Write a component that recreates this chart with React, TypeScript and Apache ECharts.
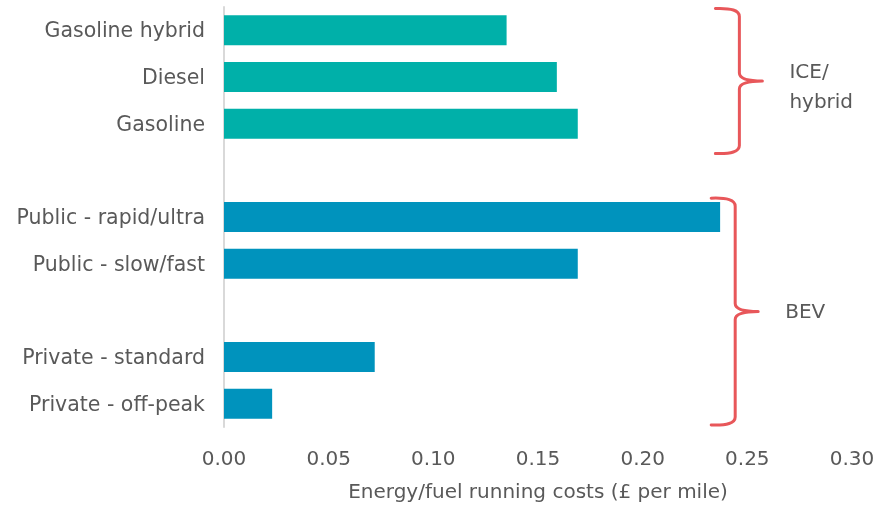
import React, { useEffect, useRef } from "react";
import * as echarts from "echarts";

const categories = [
  "Gasoline hybrid",
  "Diesel",
  "Gasoline",
  "",
  "Public - rapid/ultra",
  "Public - slow/fast",
  "",
  "Private - standard",
  "Private - off-peak",
];
const iceValues = [0.135, 0.159, 0.169, null, null, null, null, null, null];
const bevValues = [null, null, null, null, 0.237, 0.169, null, 0.072, 0.023];
const xTicks = { min: 0, max: 0.3, interval: 0.05 };
const axisTitle = "Energy/fuel running costs (£ per mile)";
const braceGroups = [
  { label: "ICE/\nhybrid", from: 0, to: 2 },
  { label: "BEV", from: 4, to: 8 },
];

const FONT = "DejaVu Sans";
const TEXT = "#595959";
const TEAL = "#00B0A9";
const BLUE = "#0093BD";
const RED = "#E8575A";

export default function App() {
  const ref = useRef<HTMLDivElement>(null);
  useEffect(() => {
    if (!ref.current) return;
    const chart = echarts.init(ref.current, null, { renderer: "svg" });
    const option: any = {
      animation: false,
      grid: {
        left: 224,
        right: 22,
        top: 7,
        bottom: 79,
        containLabel: false,
        outerBoundsMode: "none",
      },
      xAxis: {
        type: "value",
        min: xTicks.min,
        max: xTicks.max,
        interval: xTicks.interval,
        axisLine: { show: false },
        axisTick: { show: false },
        splitLine: { show: false },
        axisLabel: {
          formatter: (v: number) => v.toFixed(2),
          color: TEXT,
          fontFamily: FONT,
          fontSize: 20,
          margin: 21,
        },
        name: axisTitle,
        nameLocation: "middle",
        nameGap: 54,
        nameTextStyle: { color: TEXT, fontFamily: FONT, fontSize: 20 },
      },
      yAxis: {
        type: "category",
        inverse: true,
        data: categories,
        axisLine: { show: true, lineStyle: { color: "#D9D9D9", width: 2 } },
        axisTick: { show: false },
        axisLabel: { color: TEXT, fontFamily: FONT, fontSize: 20.5, margin: 19 },
      },
      series: [
        {
          type: "bar",
          stack: "all",
          data: iceValues,
          barWidth: 30,
          itemStyle: { color: TEAL },
        },
        {
          type: "bar",
          stack: "all",
          data: bevValues,
          barWidth: 30,
          itemStyle: { color: BLUE },
        },
      ],
    };
    chart.setOption(option);

    const yPix = (i: number) => chart.convertToPixel({ yAxisIndex: 0 }, i) as number;
    const xPix = (v: number) => chart.convertToPixel({ xAxisIndex: 0 }, v) as number;
    const band = yPix(1) - yPix(0);
    const graphics: any[] = [];
    braceGroups.forEach((g, k) => {
      const yTop = yPix(g.from) - band / 2 + (k === 0 ? 1.5 : 4.5);
      const yBot = yPix(g.to) + band / 2 + (k === 0 ? 6.5 : -2);
      const yMid = (yTop + yBot) / 2;
      const xv = xPix(k === 0 ? 0.2462 : 0.2442);
      const xl = xv - 24;
      const xt = xv + 23;
      const r = 8;
      const d =
        `M${xl},${yTop} Q${xv},${yTop - 1} ${xv},${yTop + r} ` +
        `L${xv},${yMid - r} Q${xv},${yMid} ${xt},${yMid} ` +
        `Q${xv},${yMid} ${xv},${yMid + r} ` +
        `L${xv},${yBot - r} Q${xv},${yBot + 1} ${xl},${yBot}`;
      const name = "brace" + k;
      echarts.graphic.registerShape(name, (echarts.graphic as any).extendPath(d, {}));
      graphics.push({
        type: name,
        x: 0,
        y: 0,
        style: { stroke: RED, fill: "none", lineWidth: 3, lineCap: "round", lineJoin: "round" },
        silent: true,
      });
      graphics.push({
        type: "text",
        x: xt + 27,
        y: yMid + (k === 0 ? 5 : -1),
        style: {
          text: g.label,
          fill: TEXT,
          font: `20px "${FONT}"`,
          lineHeight: 30,
          textAlign: "left",
          textVerticalAlign: "middle",
        },
      });
    });
    chart.setOption({ graphic: graphics });
    return () => chart.dispose();
  }, []);
  return (
    <div
      ref={ref}
      style={{ position: "fixed", left: 0, top: 0, width: 874, height: 506 }}
    />
  );
}
